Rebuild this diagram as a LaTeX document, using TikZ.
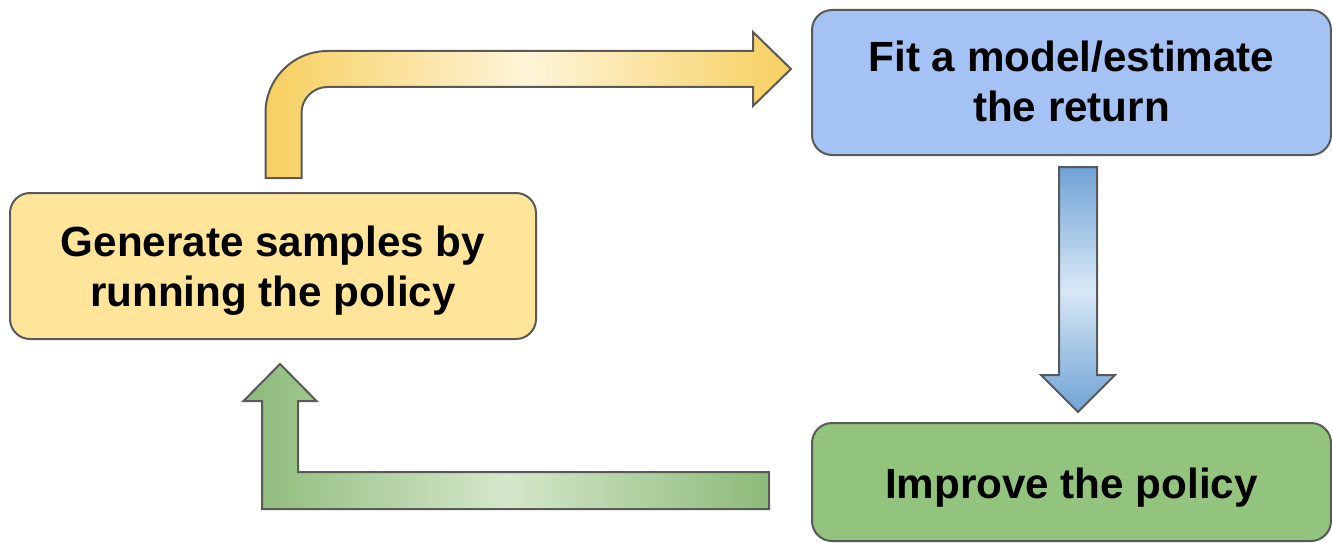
\documentclass[tikz,border=0pt]{standalone}
\usepackage{fontspec}
\setmainfont{Liberation Sans}
\usetikzlibrary{calc}

\definecolor{edgegray}{HTML}{595959}
\definecolor{genfill}{HTML}{FFE599}
\definecolor{fitfill}{HTML}{A4C2F4}
\definecolor{impfill}{HTML}{93C47D}
\definecolor{ydark}{HTML}{F7CF5F}
\definecolor{ylight}{HTML}{FEF5D9}
\definecolor{bdark}{HTML}{6FA3D5}
\definecolor{blight}{HTML}{D8E7F5}
\definecolor{gdark}{HTML}{8CBA78}
\definecolor{glight}{HTML}{D5E7CB}

% text of a box, lowered a little without moving the box
\newcommand{\stagetext}[2]{\raisebox{#1}[\height][\depth]{\begin{tabular}{@{}c@{}}#2\end{tabular}}}

\tikzset{
  stagebox/.style={draw=edgegray, line width=1pt, rounded corners=10pt,
    align=center, inner sep=0pt,
    font=\fontsize{21.1pt}{25pt}\selectfont\bfseries},
  blockarrow/.style={draw=edgegray, line width=1pt, line join=miter}
}

\begin{document}
\begin{tikzpicture}[x=0.5pt,y=0.5pt]
\useasboundingbox (0,0) rectangle (1332,542);

\node[stagebox, fill=genfill, minimum width=263pt, minimum height=73pt] (gen) at (273,276) {\stagetext{-2.5pt}{Generate samples by\\running the policy}};
\node[stagebox, fill=fitfill, minimum width=259.5pt, minimum height=72.5pt] (fit) at (1071.5,459.5) {\stagetext{-2pt}{Fit a model/estimate\\the return}};
\node[stagebox, fill=impfill, minimum width=259.5pt, minimum height=59pt] (imp) at (1071.5,60) {\stagetext{-3pt}{Improve the policy}};

% arrow ends
\coordinate (y0) at ($(gen.north)+(10.5,14)$);
\coordinate (y1) at ($(fit.west)+(-20,13.5)$);
\coordinate (b0) at ($(fit.south)+(6.5,-11)$);
\coordinate (b1) at ($(imp.north)+(6.5,10)$);
\coordinate (g0) at ($(imp.west)+(-42,-8.5)$);
\coordinate (g1) at ($(gen.south)+(7,-24)$);

% samples -> model
\draw[blockarrow, left color=ydark, right color=ydark, middle color=ylight]
  ($(y0)+(-18,0)$) -- ($(y0 |- y1)+(-18,-44)$) arc[start angle=180, end angle=90, radius=62]
  -- ($(y1)+(-38,18)$) -- ($(y1)+(-38,37)$) -- (y1) -- ($(y1)+(-38,-37)$) -- ($(y1)+(-38,-18)$)
  -- ($(y0 |- y1)+(44,-18)$) arc[start angle=90, end angle=180, radius=26]
  -- ($(y0)+(18,0)$) -- cycle;

% model -> improve
\draw[blockarrow, top color=bdark, bottom color=bdark, middle color=blight]
  ($(b0)+(-19,0)$) -- ($(b1)+(-19,37)$) -- ($(b1)+(-37,37)$) -- (b1)
  -- ($(b1)+(37,37)$) -- ($(b1)+(19,37)$) -- ($(b0)+(19,0)$) -- cycle;

% improve -> samples
\draw[blockarrow, left color=gdark, right color=gdark, middle color=glight]
  ($(g0)+(0,18.5)$) -- ($(g1 |- g0)+(18,18.5)$) -- ($(g1)+(18,-37)$) -- ($(g1)+(36.5,-37)$)
  -- (g1) -- ($(g1)+(-36.5,-37)$) -- ($(g1)+(-18,-37)$)
  -- ($(g1 |- g0)+(-18,-18.5)$) -- ($(g0)+(0,-18.5)$) -- cycle;

\end{tikzpicture}
\end{document}
